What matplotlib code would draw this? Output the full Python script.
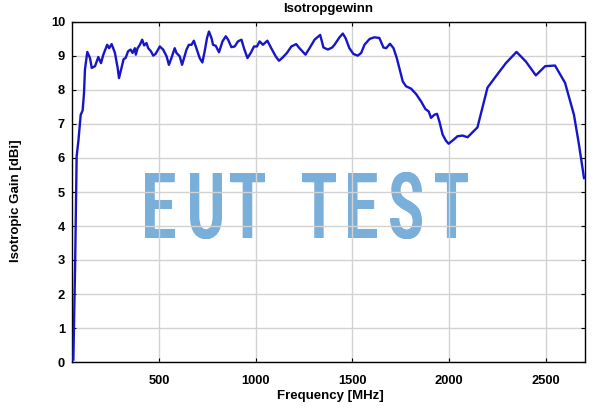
import matplotlib
matplotlib.use("Agg")
from matplotlib import pyplot as plt
from matplotlib import patheffects
from matplotlib.font_manager import FontProperties
from matplotlib.path import Path
from matplotlib.transforms import Affine2D
import numpy as np

# Werte
freq_mhz = [57, 66, 74, 83, 95, 105, 112, 117, 129, 143, 152, 169, 186, 200, 212,
            232, 242, 255, 272, 286, 293, 306, 317, 327, 340, 353, 363, 375, 380,
            389, 401, 413, 423, 435, 444, 458, 470, 482, 504, 521, 539, 551, 564,
            581, 590, 607, 619, 629, 642, 654, 668, 680, 693, 710, 724, 736, 748,
            758, 771, 779, 793, 810, 828, 845, 857, 874, 891, 908, 926, 939, 957,
            974, 991, 1006, 1020, 1037, 1060, 1080, 1103, 1120, 1140, 1161, 1184,
            1209, 1226, 1257, 1278, 1304, 1333, 1350, 1373, 1395, 1407, 1433, 1450,
            1464, 1484, 1505, 1527, 1545, 1562, 1588, 1613, 1639, 1660, 1674, 1694,
            1712, 1729, 1742, 1760, 1777, 1803, 1829, 1855, 1877, 1894, 1906, 1923,
            1937, 1949, 1966, 1983, 1997, 2017, 2043, 2069, 2095, 2146, 2198, 2241,
            2293, 2348, 2396, 2448, 2496, 2547, 2599, 2645, 2671, 2697]
gain_dbi = [0.07, 2.8, 6.05, 6.5, 7.27, 7.4, 7.9, 8.6, 9.12, 8.94, 8.65, 8.7, 8.97,
            8.79, 9.04, 9.33, 9.23, 9.35, 9.09, 8.65, 8.35, 8.65, 8.91, 8.94, 9.14,
            9.19, 9.09, 9.23, 9.04, 9.23, 9.33, 9.48, 9.31, 9.38, 9.23, 9.14, 9.01,
            9.06, 9.28, 9.19, 8.99, 8.74, 8.94, 9.23, 9.09, 8.99, 8.74, 8.94, 9.19,
            9.33, 9.33, 9.45, 9.23, 8.94, 8.81, 9.14, 9.53, 9.72, 9.53, 9.33, 9.30,
            9.11, 9.43, 9.58, 9.48, 9.26, 9.28, 9.43, 9.48, 9.23, 8.94, 9.09, 9.28,
            9.28, 9.43, 9.33, 9.45, 9.23, 8.99, 8.86, 8.96, 9.09, 9.28, 9.35, 9.23,
            9.04, 9.23, 9.48, 9.62, 9.25, 9.19, 9.25, 9.33, 9.55, 9.66, 9.53, 9.23,
            9.06, 9.01, 9.09, 9.33, 9.50, 9.55, 9.53, 9.25, 9.23, 9.36, 9.23, 8.94,
            8.65, 8.25, 8.11, 8.04, 7.88, 7.66, 7.44, 7.37, 7.18, 7.27, 7.30, 7.08,
            6.69, 6.51, 6.42, 6.51, 6.64, 6.66, 6.61, 6.90, 8.07, 8.40, 8.79, 9.12,
            8.84, 8.43, 8.70, 8.72, 8.21, 7.27, 6.39, 5.41]

x_ticks = [500, 1000, 1500, 2000, 2500]
y_ticks = list(range(0, 11))

# Wasserzeichen: linker/rechter Rand jedes Buchstabens in Pixeln
wm_text = "EUT TEST"
wm_left = [145, 190, 230, 302, 348, 390, 435]
wm_right = [175, 222, 265, 336, 377, 422, 468]


class FitGlyphs(patheffects.AbstractPathEffect):
    """Jeden Buchstaben schmal in seinen Pixelbereich setzen (wie im Original)."""
    def __init__(self, lefts, rights, smear=3.0, n=5):
        super().__init__()
        self.lefts = lefts
        self.rights = rights
        self.smear = smear
        self.n = n

    def draw_path(self, renderer, gc, tpath, affine, rgbFace=None):
        verts = affine.transform(tpath.vertices)
        codes = tpath.codes
        real = codes != Path.CLOSEPOLY
        starts = list(np.flatnonzero(codes == Path.MOVETO)) + [len(codes)]
        contours = []
        for s, e in zip(starts[:-1], starts[1:]):
            xs = verts[s:e, 0][real[s:e]]
            contours.append((xs.min(), xs.max(), s, e))
        contours.sort()
        groups = []
        for x0, x1, s, e in contours:
            if groups and x0 < groups[-1][1]:
                groups[-1][1] = max(groups[-1][1], x1)
                groups[-1][2].append((s, e))
            else:
                groups.append([x0, x1, [(s, e)]])
        new = verts.copy()
        if len(groups) == len(self.lefts):
            for (x0, x1, idx), l, r in zip(groups, self.lefts, self.rights):
                sc = (r - l - self.smear) / (x1 - x0)
                for s, e in idx:
                    new[s:e, 0] = l + (verts[s:e, 0] - x0) * sc
        path = Path(new, codes)
        for dx in np.linspace(0, self.smear, self.n):
            renderer.draw_path(gc, path, Affine2D().translate(dx, 0), rgbFace)


plt.rcParams['font.family'] = ['Liberation Sans', 'DejaVu Sans']

W, H, DPI = 600, 411, 100
fig = plt.figure(figsize=(W / DPI, H / DPI), dpi=DPI)
ax = fig.add_axes([72 / W, 1 - 362 / H, 512.6 / W, 340 / H])

ax.plot(freq_mhz, gain_dbi, color='#1616c8', linewidth=1.7, zorder=3)

ax.set_xlim(50, 2700)
ax.set_ylim(0, 10)
ax.set_xticks(x_ticks)
ax.set_yticks(y_ticks)
ax.grid(True, color='#d2d2d2', linewidth=1.0)
ax.tick_params(direction='in', top=True, right=True, length=3, width=0.8,
               labelsize=9.3)
ax.tick_params(axis='x', pad=9.5)
ax.tick_params(axis='y', pad=5)
for lbl in ax.get_xticklabels() + ax.get_yticklabels():
    lbl.set_fontweight('bold')
for sp in ax.spines.values():
    sp.set_linewidth(1.0)

ax.set_xlabel("Frequency [MHz]", fontsize=9.5, fontweight='bold')
ax.xaxis.set_label_coords((330 - 72) / 512.6, (362 - 390) / 340)
ax.set_ylabel("Isotropic Gain [dBi]", fontsize=9.5, fontweight='bold')
ax.yaxis.set_label_coords((22 - 72) / 512.6, (362 - 201) / 340)
ax.set_title("Isotropgewinn", fontsize=9.5, fontweight='bold', pad=7.5)

# Wasserzeichen "EUT TEST" (65 px Versalhoehe, Grundlinie bei y=238 px)
wm_font = FontProperties(family=['Roboto', 'DejaVu Sans'], weight='medium')
wm_size = 65 * 72 / DPI / 0.711
ax.text(306 / W, (H - 238) / H, wm_text, transform=fig.transFigure,
        fontproperties=wm_font, fontsize=wm_size, ha='center', va='baseline',
        color='#7aafd9', zorder=1,
        path_effects=[FitGlyphs(wm_left, wm_right, smear=2.5)])

plt.savefig("out.png", dpi=DPI)
